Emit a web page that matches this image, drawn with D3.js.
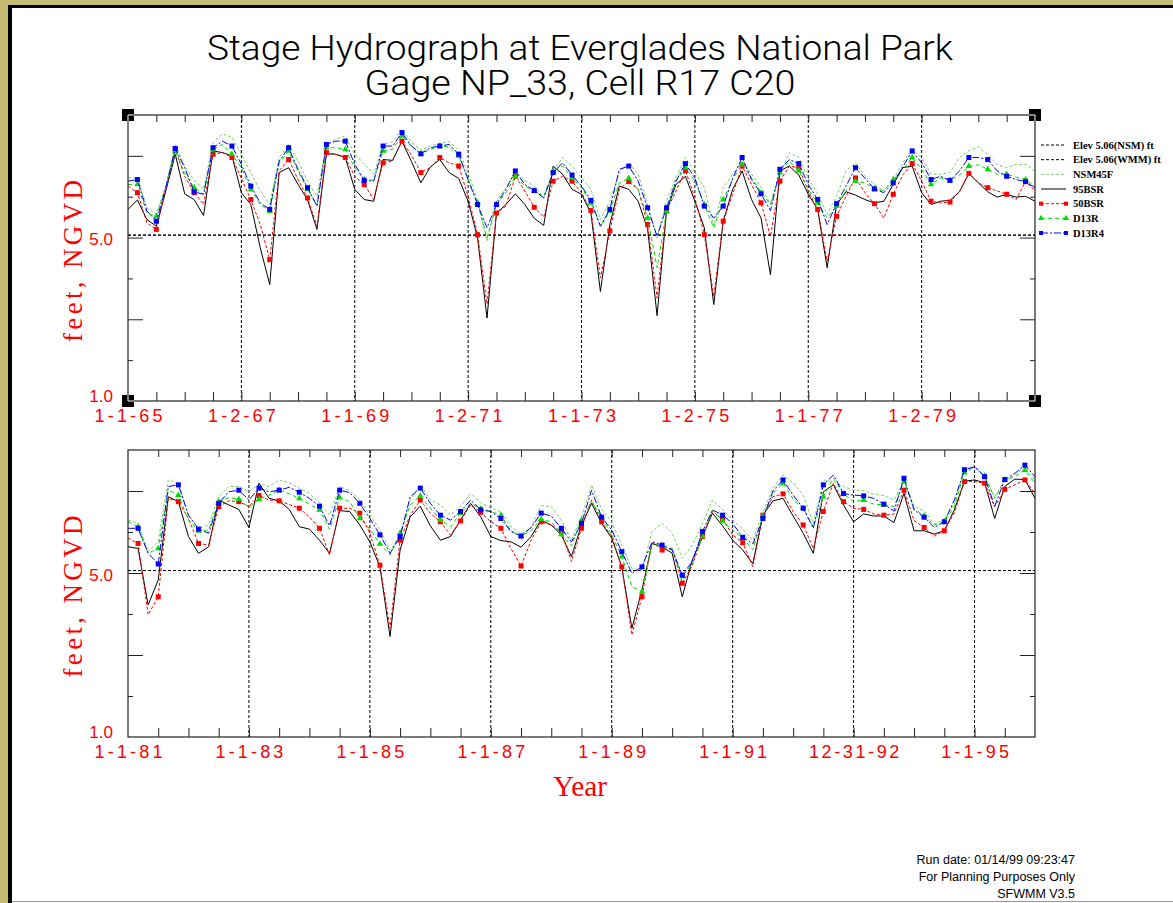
<!DOCTYPE html>
<html><head><meta charset="utf-8">
<script src="https://cdn.jsdelivr.net/npm/d3@7/dist/d3.min.js"></script>
<style>html,body{margin:0;padding:0;background:#fff;overflow:hidden}svg{display:block}</style>
</head><body>
<svg id="chart" width="1173" height="903"></svg>
<script>
// ---------------- data ----------------
const stepsPerYear = 6;               // one value every two months
const topStartYear = 1965, topEndYear = 1981;
const botStartYear = 1981, botEndYear = 1996;

const topNSM45F = [6.46,6.46,5.73,5.57,6.26,7.28,6.75,6.40,6.18,7.32,
7.54,7.45,7.04,6.59,6.14,5.81,6.96,7.28,6.87,6.38,
6.01,7.30,7.41,7.49,7.04,6.81,6.55,7.28,7.35,7.65,
7.34,7.14,7.24,7.30,7.35,7.14,6.59,5.89,4.91,5.89,
6.22,6.63,6.40,6.26,5.97,6.63,6.96,6.75,6.46,6.18,
5.44,5.89,6.59,6.83,6.55,5.81,4.99,5.89,6.46,6.96,
6.59,6.22,5.28,6.22,6.55,6.87,6.55,6.24,5.81,6.55,
7.08,6.96,6.46,6.06,5.57,6.01,6.63,6.83,6.50,6.30,
6.15,6.42,6.83,7.16,6.96,6.55,6.55,6.59,6.96,7.12,
7.22,7.02,6.79,6.71,6.79,6.79,6.63];
const top95BSR = [5.69,5.92,5.44,5.28,6.14,7.04,6.07,5.93,5.54,7.12,
7.08,7.00,6.10,5.81,4.75,3.85,6.59,6.71,6.30,5.93,
5.20,7.05,7.04,6.96,6.18,5.93,5.89,6.91,6.89,7.36,
6.86,6.34,6.73,6.91,6.59,6.45,5.89,4.99,3.03,5.60,
5.81,6.07,5.81,5.47,5.30,6.75,6.55,6.18,6.06,5.60,
3.68,5.32,6.26,6.18,5.89,5.20,3.09,5.65,6.30,6.50,
5.89,5.24,3.36,5.40,6.18,6.63,5.93,5.48,4.09,6.63,
6.75,6.53,6.06,5.69,4.26,5.81,6.12,6.04,5.93,5.85,
5.89,6.30,6.71,6.75,6.10,5.81,5.89,5.91,6.12,6.57,
6.34,6.12,5.99,6.06,5.99,6.01,5.89];
const top50BSR = [6.26,6.10,5.36,5.20,6.18,7.16,6.50,6.10,5.81,7.04,
7.08,6.96,6.45,5.93,5.32,4.46,6.63,6.91,6.42,5.97,
5.28,7.08,7.04,6.96,6.50,6.30,5.93,6.83,6.87,7.36,
7.02,6.59,6.71,6.96,6.83,6.75,6.01,5.07,3.37,5.60,
5.77,6.50,6.14,5.74,5.50,6.38,6.50,6.38,6.10,5.66,
4.01,5.16,6.18,6.37,6.18,5.32,3.52,5.65,6.14,6.64,
5.97,5.07,3.56,5.40,6.06,6.75,6.30,5.85,5.03,6.38,
6.75,6.71,6.14,5.69,4.42,5.52,6.01,6.46,6.10,5.83,
5.48,6.06,6.53,6.81,6.38,5.89,5.85,5.87,6.12,6.57,
6.34,6.22,6.14,6.06,5.93,6.38,6.14];
const topD13R = [6.30,6.30,5.60,5.52,6.22,7.12,6.59,6.22,6.06,7.16,
7.28,7.04,6.71,6.18,5.81,5.65,6.83,7.12,6.63,6.18,
5.81,7.20,7.20,7.16,6.71,6.42,6.40,7.12,7.16,7.49,
7.24,7.05,7.16,7.24,7.22,7.00,6.42,5.85,4.99,5.81,
6.10,6.50,6.26,6.14,6.01,6.63,6.75,6.46,6.22,5.85,
5.28,5.65,6.34,6.45,6.18,5.48,4.26,5.65,6.38,6.71,
6.38,5.81,5.24,5.93,6.42,6.79,6.46,6.10,5.81,6.59,
6.87,6.64,6.18,5.85,5.48,5.77,6.15,6.38,6.34,6.20,
6.15,6.42,6.67,6.96,6.67,6.30,6.46,6.40,6.53,6.75,
6.78,6.67,6.55,6.55,6.48,6.42,6.26];
const topD13R4 = [6.38,6.42,5.65,5.40,6.22,7.18,6.71,6.12,6.06,7.20,
7.36,7.24,6.79,6.26,5.85,5.69,6.87,7.20,6.67,6.22,
5.77,7.28,7.36,7.36,6.79,6.40,6.38,7.24,7.24,7.57,
7.24,7.05,7.20,7.24,7.28,7.04,6.42,5.81,5.24,5.81,
6.18,6.63,6.30,6.15,5.97,6.59,6.83,6.53,6.26,5.91,
5.28,5.69,6.67,6.75,6.38,5.73,5.03,5.73,6.38,6.81,
6.46,5.77,5.48,5.77,6.45,6.96,6.42,6.07,5.66,6.67,
6.91,6.81,6.30,5.93,5.32,5.83,6.26,6.71,6.45,6.19,
6.10,6.34,6.73,7.12,6.83,6.42,6.50,6.40,6.63,6.96,
6.96,6.91,6.63,6.50,6.42,6.37,6.22];

const botNSM45F = [6.29,6.21,5.52,5.76,7.27,7.19,6.41,6.09,6.17,6.86,
7.11,7.11,6.98,7.17,7.11,7.27,7.20,7.07,6.94,6.72,
6.41,7.11,7.01,6.78,6.41,6.05,5.56,5.89,6.78,7.15,
6.78,6.66,6.41,6.63,6.94,6.72,6.58,6.50,6.13,5.95,
6.11,6.64,6.62,6.29,5.80,6.37,7.15,6.55,6.25,5.68,
5.11,5.07,6.01,6.21,5.97,5.36,5.68,6.21,6.78,6.55,
6.29,6.07,5.80,6.47,7.08,7.39,7.20,6.90,6.21,7.27,
7.23,7.11,7.02,7.01,6.92,6.89,6.78,7.25,6.63,6.52,
6.19,6.31,6.70,7.49,7.63,7.35,6.86,7.24,7.40,7.59,
7.27];
const bot95BSR = [5.64,5.60,4.22,4.83,6.86,6.74,5.89,5.48,5.64,6.78,
6.66,6.55,6.11,7.19,6.82,6.76,6.55,6.13,6.07,5.80,
5.48,6.52,6.50,6.17,5.76,5.15,3.45,5.56,6.37,6.63,
6.15,5.80,5.89,6.29,6.70,6.37,5.89,5.79,5.76,5.63,
5.89,6.29,6.17,5.93,5.40,6.17,6.70,6.21,5.85,5.15,
3.65,4.59,5.72,5.64,5.48,4.42,5.32,5.89,6.46,6.15,
5.80,5.56,5.23,6.41,6.76,6.82,6.39,5.97,5.48,6.98,
7.15,6.66,6.25,6.44,6.39,6.39,6.23,6.94,6.03,6.03,
5.95,6.03,6.54,7.24,7.27,7.20,6.33,7.11,7.29,7.28,
6.82];
const bot50BSR = [5.85,5.72,3.98,4.42,6.82,6.74,6.33,5.72,5.68,6.62,
6.76,6.74,6.62,6.89,6.78,6.76,6.67,6.58,6.37,6.09,
5.44,6.58,6.58,6.46,5.97,5.19,3.65,5.80,6.41,6.78,
6.46,6.25,5.93,6.27,6.66,6.48,6.25,6.09,5.60,5.17,
5.80,6.25,6.17,6.01,5.28,6.09,6.78,6.25,5.89,5.15,
3.49,4.42,5.76,5.56,5.60,4.75,5.19,5.89,6.50,6.31,
5.93,5.74,5.15,6.41,6.86,6.93,6.50,6.17,5.60,6.50,
7.19,6.74,6.58,6.55,6.44,6.41,6.44,7.02,6.28,6.11,
5.90,6.03,6.47,7.23,7.23,7.19,6.62,7.04,7.15,7.27,
6.94];
const botD13R = [6.25,6.13,5.48,5.60,7.02,6.90,6.29,6.03,6.05,6.74,
6.84,6.80,6.60,6.80,6.90,7.02,6.93,6.82,6.68,6.54,
6.07,6.84,6.74,6.33,6.07,5.71,5.44,5.97,6.66,6.88,
6.58,6.29,6.13,6.46,6.70,6.57,6.50,6.41,6.03,5.90,
6.03,6.31,6.25,5.94,5.66,6.29,6.74,6.36,5.93,5.40,
4.67,4.54,5.71,5.66,5.60,4.91,5.23,5.89,6.54,6.27,
6.05,5.85,5.57,6.39,6.94,7.19,6.80,6.58,6.13,6.86,
7.31,6.93,6.74,6.78,6.68,6.66,6.62,7.23,6.58,6.39,
6.17,6.25,6.62,7.45,7.58,7.37,6.82,7.27,7.35,7.51,
7.19];
const botD13R4 = [6.09,6.09,5.48,5.22,7.11,7.15,6.41,6.07,5.97,6.70,
6.98,7.02,6.78,7.07,6.98,7.02,7.09,6.97,6.82,6.63,
6.15,7.02,6.96,6.70,6.33,5.93,5.48,5.89,6.86,7.07,
6.70,6.41,6.29,6.50,6.78,6.54,6.50,6.33,6.01,5.90,
6.11,6.46,6.39,6.09,5.76,6.21,7.02,6.36,6.05,5.52,
4.99,5.15,5.76,5.68,5.56,4.95,5.28,6.01,6.54,6.41,
6.21,5.87,5.71,6.33,7.00,7.27,6.90,6.58,6.09,7.15,
7.39,6.94,6.90,6.88,6.82,6.68,6.51,7.31,6.54,6.36,
6.11,6.25,6.78,7.52,7.59,7.35,6.63,7.28,7.43,7.63,
7.35];

const elevNSM = 5.06, elevWMM = 5.06;
const yDomain = [1, 8];
const yLabelValues = [1, 5];
const yLongTicks = [3, 5, 7];
const yShortTicks = [2, 4, 6];
const topLabelYears = [1965,1967,1969,1971,1973,1975,1977,1979];
const topLabels = ["1-1-65","1-2-67","1-1-69","1-2-71","1-1-73","1-2-75","1-1-77","1-2-79"];
const topGridYears = [1967,1969,1971,1973,1975,1977,1979];
const botLabelYears = [1981,1983,1985,1987,1989,1991,1993,1995];
const botLabels = ["1-1-81","1-1-83","1-1-85","1-1-87","1-1-89","1-1-91","12-31-92","1-1-95"];
const botGridYears = [1983,1985,1987,1989,1991,1993,1995];
const legendNames = ["Elev 5.06(NSM) ft","Elev 5.06(WMM) ft","NSM45F","95BSR","50BSR","D13R","D13R4"];
const titleLines = ["Stage Hydrograph at Everglades National Park","Gage NP_33, Cell R17 C20"];
const footerLines = ["Run date: 01/14/99 09:23:47","For Planning Purposes Only","SFWMM V3.5"];
const yAxisTitle = "feet, NGVD";
const xAxisTitle = "Year";

// ---------------- styles ----------------
const styles = {
  "Elev": {color:"#000", dash:"3,2", marker:null},
  "NSM45F": {color:"#7ccf6a", dash:"3,2", marker:null},
  "95BSR": {color:"#000", dash:null, marker:null},
  "50BSR": {color:"#ff0000", dash:"3,2", marker:"square"},
  "D13R": {color:"#00dd00", dash:"4,3", marker:"triangle"},
  "D13R4": {color:"#0000ff", dash:"7,2,2,2", marker:"square"}
};
const RED = "#ff0000";

const svg = d3.select("#chart");

// frame / border
svg.append("rect").attr("width",1173).attr("height",903).attr("fill","#c4bb72");
svg.append("rect").attr("x",11).attr("y",7).attr("width",1162).attr("height",896).attr("fill","#fff");
svg.append("rect").attr("x",8).attr("y",5).attr("width",1165).attr("height",3).attr("fill","#000");
svg.append("rect").attr("x",8).attr("y",5).attr("width",4).attr("height",898).attr("fill","#000");
svg.append("line").attr("x1",12).attr("x2",1173).attr("y1",901.5).attr("y2",901.5).attr("stroke","#999").attr("stroke-width",1);

// title
const titleSpecs = [{y:60, len:746}, {y:95, len:431}];
svg.selectAll("text.title").data(titleLines).join("text").attr("class","title")
  .attr("x",580).attr("y",(d,i)=>titleSpecs[i].y).attr("text-anchor","middle")
  .attr("textLength",(d,i)=>titleSpecs[i].len).attr("lengthAdjust","spacingAndGlyphs")
  .style("font-family","Roboto, 'Liberation Sans', sans-serif").style("font-weight",300)
  .style("font-size","35px").attr("fill","#000").text(d=>d);

function drawPanel(p){
  const x = d3.scaleLinear().domain([p.start, p.end]).range([p.left, p.right]);
  const y = d3.scaleLinear().domain(yDomain).range([p.bottom, p.top]);
  const g = svg.append("g");

  // vertical grid
  g.selectAll("line.vg").data(p.gridYears).join("line").attr("class","vg")
    .attr("x1",d=>x(d)).attr("x2",d=>x(d)).attr("y1",y(yDomain[1])).attr("y2",y(yDomain[0]))
    .attr("stroke","#000").attr("stroke-width",1).attr("stroke-dasharray","3,2");
  // elevation lines
  g.selectAll("line.elev").data([elevNSM, elevWMM]).join("line").attr("class","elev")
    .attr("x1",p.left).attr("x2",p.right).attr("y1",d=>y(d)).attr("y2",d=>y(d))
    .attr("stroke","#000").attr("stroke-width",1).attr("stroke-dasharray","3,2");

  // series
  p.series.forEach(([name, vals])=>{
    const st = styles[name];
    const pts = vals.map((v,i)=>({t:p.start + i/stepsPerYear, v, i}));
    const line = d3.line().x(d=>x(d.t)).y(d=>y(d.v));
    g.append("path").datum(pts).attr("d",line).attr("fill","none")
      .attr("stroke",st.color).attr("stroke-width",1)
      .attr("stroke-dasharray",st.dash);
    const mk = pts.filter(d=>d.i % 2 === 1);
    if(st.marker==="square"){
      g.selectAll(null).data(mk).join("rect")
        .attr("x",d=>x(d.t)-2.5).attr("y",d=>y(d.v)-2.5).attr("width",5).attr("height",5)
        .attr("fill",st.color);
    } else if(st.marker==="triangle"){
      const sym = d3.symbol().type(d3.symbolTriangle).size(18);
      g.selectAll(null).data(mk).join("path")
        .attr("d",sym).attr("transform",d=>`translate(${x(d.t)},${y(d.v)})`).attr("fill",st.color);
    }
  });

  // frame
  g.append("rect").attr("x",p.left).attr("y",p.top).attr("width",p.right-p.left).attr("height",p.bottom-p.top)
    .attr("fill","none").attr("stroke","#222").attr("stroke-width",1.2);

  // x ticks (half-year)
  const half = d3.range(p.start+0.5, p.end, 0.5);
  const axTop = g.append("g").attr("transform",`translate(0,${p.top})`)
    .call(d3.axisBottom(x).tickValues(half).tickSize(7).tickFormat(""));
  const axBot = g.append("g").attr("transform",`translate(0,${p.bottom})`)
    .call(d3.axisTop(x).tickValues(half).tickSize(9).tickFormat(""));
  [axTop, axBot].forEach(a=>{a.select(".domain").remove(); a.selectAll("line").attr("stroke","#222");});

  // y ticks both sides
  [[d3.axisRight, p.left],[d3.axisLeft, p.right]].forEach(([fn, xpos])=>{
    [[yLongTicks,15],[yShortTicks,5]].forEach(([vals,sz])=>{
      const a = g.append("g").attr("transform",`translate(${xpos},0)`)
        .call(fn(y).tickValues(vals).tickSize(sz).tickFormat(""));
      a.select(".domain").remove(); a.selectAll("line").attr("stroke","#222");
    });
  });

  // x labels
  const lab = g.append("g").attr("transform",`translate(0,${p.bottom})`)
    .call(d3.axisBottom(x).tickValues(p.labelYears).tickSize(0).tickFormat((d,i)=>p.labels[i]));
  lab.select(".domain").remove();
  lab.selectAll("text").attr("y",21).attr("dy",null).attr("fill",RED)
    .attr("textLength",d=>p.labels[p.labelYears.indexOf(d)].length*11.3).attr("lengthAdjust","spacing")
    .style("font-family","'Liberation Sans', Arial, sans-serif").style("font-size","18px");

  // y labels
  const yl = g.append("g").attr("transform",`translate(${p.left},0)`)
    .call(d3.axisLeft(y).tickValues(yLabelValues).tickSize(0).tickPadding(15).tickFormat(d3.format(".1f")));
  yl.select(".domain").remove();
  yl.selectAll("text").attr("dy",null).attr("y",d=>d===1?0:7).attr("fill",RED)
    .style("font-family","'Liberation Sans', Arial, sans-serif").style("font-size","17px");

  // y axis title
  g.append("text").attr("transform",`translate(82,${(p.top+p.bottom)/2+3}) rotate(-90)`)
    .attr("text-anchor","middle").attr("textLength",162).attr("lengthAdjust","spacing")
    .attr("fill",RED).style("font-family","'Liberation Serif', 'Times New Roman', serif")
    .style("font-size","27px").text(yAxisTitle);

  if(p.handles){
    const corners = [[p.left,p.top],[p.right,p.top],[p.left,p.bottom],[p.right,p.bottom]];
    g.selectAll("rect.h").data(corners).join("rect").attr("class","h")
      .attr("x",d=>d[0]-6).attr("y",d=>d[1]-6).attr("width",12).attr("height",12).attr("fill","#000");
    g.selectAll("path.hw").data(corners).join("path").attr("class","hw")
      .attr("d",d=>{
        const sx = d[0]===p.left?1:-1, sy = d[1]===p.top?1:-1;
        return `M${d[0]+sx*6},${d[1]}L${d[0]},${d[1]}L${d[0]},${d[1]+sy*6}`;
      }).attr("fill","none").attr("stroke","#fff").attr("stroke-width",1);
  }
  return {x,y};
}

drawPanel({left:128,right:1035,top:115,bottom:401,start:topStartYear,end:topEndYear,
  gridYears:topGridYears,labelYears:topLabelYears,labels:topLabels,handles:true,
  series:[["NSM45F",topNSM45F],["95BSR",top95BSR],["50BSR",top50BSR],["D13R",topD13R],["D13R4",topD13R4]]});
drawPanel({left:128,right:1035,top:450,bottom:737,start:botStartYear,end:botEndYear,
  gridYears:botGridYears,labelYears:botLabelYears,labels:botLabels,handles:false,
  series:[["NSM45F",botNSM45F],["95BSR",bot95BSR],["50BSR",bot50BSR],["D13R",botD13R],["D13R4",botD13R4]]});

// x axis title
svg.append("text").attr("x",580).attr("y",796).attr("text-anchor","middle")
  .attr("textLength",54).attr("lengthAdjust","spacingAndGlyphs")
  .attr("fill",RED).style("font-family","'Liberation Serif', 'Times New Roman', serif")
  .style("font-size","30px").text(xAxisTitle);

// legend
const legendKeys = ["Elev","Elev","NSM45F","95BSR","50BSR","D13R","D13R4"];
const legY = d3.scalePoint().domain(d3.range(legendNames.length)).range([145,233]);
const leg = svg.append("g");
legendNames.forEach((name,i)=>{
  const st = styles[legendKeys[i]];
  const yy = legY(i);
  leg.append("line").attr("x1",1041).attr("x2",1066).attr("y1",yy).attr("y2",yy)
    .attr("stroke",st.color).attr("stroke-width",1).attr("stroke-dasharray",st.dash);
  [1041,1066].forEach(xx=>{
    if(st.marker==="square") leg.append("rect").attr("x",xx-2).attr("y",yy-2).attr("width",4).attr("height",4).attr("fill",st.color);
    if(st.marker==="triangle") leg.append("path").attr("d",d3.symbol().type(d3.symbolTriangle).size(16)).attr("transform",`translate(${xx},${yy})`).attr("fill",st.color);
  });
  leg.append("text").attr("x",1073).attr("y",yy+3.5).attr("fill","#000")
    .style("font-family","'Liberation Serif', serif").style("font-weight","bold").style("font-size","10.5px")
    .text(name);
});

// footer
svg.selectAll("text.foot").data(footerLines).join("text").attr("class","foot")
  .attr("x",1075).attr("y",(d,i)=>864+i*17).attr("text-anchor","end").attr("fill","#000")
  .style("font-family","'Liberation Sans', Arial, sans-serif").style("font-size","12.5px").text(d=>d);
</script>
</body></html>
